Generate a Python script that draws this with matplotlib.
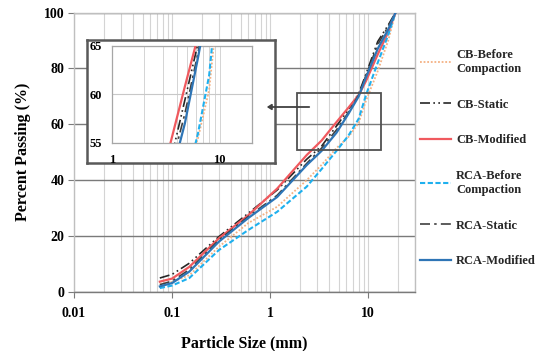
import matplotlib
matplotlib.use("Agg")
import matplotlib.pyplot as plt
from matplotlib.patches import Rectangle, FancyArrowPatch
from matplotlib.ticker import LogLocator, NullFormatter

# ---------------- data ----------------
sizes = [0.075, 0.1, 0.15, 0.3, 0.6, 1.18, 2.36, 3.35, 4.75, 6.3, 8.0, 9.5, 12.5, 16, 19]
cb_before = [2.8, 3.6, 6.0, 16.2, 24.7, 30.5, 40.0, 45.5, 51.5, 55.5, 60.5, 68.5, 79.0, 90.0, 100]
cb_static = [5.0, 6.3, 10.3, 19.8, 28.2, 36.5, 47.5, 52.2, 59.4, 65.3, 71.0, 78.0, 89.6, 95.5, 100]
cb_modified = [3.7, 4.8, 9.0, 19.2, 27.5, 37.0, 49.0, 54.2, 60.8, 66.0, 70.5, 75.5, 85.0, 93.0, 100]
rca_before = [1.4, 2.3, 5.0, 15.0, 22.2, 28.7, 37.7, 44.0, 50.5, 56.0, 62.0, 70.5, 82.0, 92.0, 100]
rca_static = [2.6, 3.9, 8.0, 18.6, 27.0, 34.6, 46.0, 51.5, 58.0, 64.3, 70.5, 77.5, 88.5, 95.0, 100]
rca_modified = [2.0, 3.2, 7.3, 18.0, 26.5, 34.0, 45.4, 50.5, 57.0, 63.8, 70.0, 76.8, 87.0, 94.0, 100]

labels = ["CB-Before\nCompaction", "CB-Static", "CB-Modified",
          "RCA-Before\nCompaction", "RCA-Static", "RCA-Modified"]
series = [cb_before, cb_static, cb_modified, rca_before, rca_static, rca_modified]
styles = [
    dict(color="#F4B183", lw=1.3, ls=(0, (1, 1))),
    dict(color="#262626", lw=1.2, ls=(0, (6, 2, 1, 2, 1, 2))),
    dict(color="#F0595E", lw=1.6, ls="-"),
    dict(color="#1FB0EE", lw=1.5, ls=(0, (2.5, 1.2))),
    dict(color="#404040", lw=1.2, ls=(0, (6, 2.5, 1.5, 2.5))),
    dict(color="#2E75B6", lw=1.6, ls="-"),
]

xticks_main = [0.01, 0.1, 1, 10]
xticklabels_main = ["0.01", "0.1", "1", "10"]
yticks_main = [0, 20, 40, 60, 80, 100]
xticks_inset = [1, 10]
yticks_inset = [55, 60, 65]

plt.rcParams["font.family"] = ["Liberation Serif", "DejaVu Serif"]
plt.rcParams["font.weight"] = "bold"

W, H = 542, 351
fig = plt.figure(figsize=(W / 100, H / 100), dpi=100)

def fx(px):
    return px / W

def fy(py):
    return 1 - py / H

# ---------------- main axes ----------------
ax = fig.add_axes([fx(74), fy(292), fx(415) - fx(74), fy(12.5) - fy(292)])
lines = []
for vals, st, lab in zip(series, styles, labels):
    ln, = ax.plot(sizes, vals, label=lab, zorder=3, **st)
    lines.append(ln)

ax.set_xscale("log")
ax.set_xlim(0.01, 30)
ax.set_ylim(0, 100)
ax.set_xticks(xticks_main)
ax.set_xticklabels(xticklabels_main)
ax.xaxis.set_minor_locator(LogLocator(base=10, subs=range(2, 10), numticks=20))
ax.xaxis.set_minor_formatter(NullFormatter())
ax.set_yticks(yticks_main)
ax.grid(True, which="both", axis="x", color="#d4d4d4", lw=0.8, zorder=0)
ax.grid(True, which="major", axis="y", color="#7a7a7a", lw=1.0, zorder=0)
ax.tick_params(axis="x", which="minor", length=0)
ax.tick_params(axis="both", which="major", length=4, color="#7a7a7a",
               labelsize=10)
ax.tick_params(axis="x", which="major", pad=7)
ax.tick_params(axis="y", which="major", pad=3)
for s in ax.spines.values():
    s.set_color("#bfbfbf")
    s.set_linewidth(1.0)
ax.spines["bottom"].set_color("#7a7a7a")
for t in ax.get_xticklabels() + ax.get_yticklabels():
    t.set_fontweight("bold")
ax.set_xlabel("Particle Size (mm)", fontsize=11.5, fontweight="bold", labelpad=11)
ax.set_ylabel("Percent Passing (%)", fontsize=11.5, fontweight="bold", labelpad=9)

# zoom-region rectangle on main axes
ax.add_patch(Rectangle((1.89, 50.8), 13.4 - 1.89, 71.2 - 50.8, fill=False,
                       ec="#505050", lw=1.3, zorder=4))

# ---------------- inset frame ----------------
frame = fig.add_axes([fx(87), fy(163), fx(275) - fx(87), fy(40) - fy(163)])
frame.set_xticks([])
frame.set_yticks([])
frame.set_facecolor("white")
for s in frame.spines.values():
    s.set_color("#595959")
    s.set_linewidth(1.8)
frame.set_zorder(5)

# ---------------- inset axes ----------------
ins = fig.add_axes([fx(112), fy(143), fx(252) - fx(112), fy(46) - fy(143)])
ins.set_zorder(6)
for vals, st in zip(series, styles):
    ins.plot(sizes, vals, zorder=3, **st)
ins.set_xscale("log")
ins.set_xlim(1, 20)
ins.set_ylim(55, 65)
ins.set_xticks(xticks_inset)
ins.set_xticklabels([str(v) for v in xticks_inset])
ins.xaxis.set_minor_locator(LogLocator(base=10, subs=range(2, 10), numticks=20))
ins.xaxis.set_minor_formatter(NullFormatter())
ins.set_yticks(yticks_inset)
ins.grid(True, which="both", axis="x", color="#d4d4d4", lw=0.7)
ins.grid(True, which="major", axis="y", color="#c8c8c8", lw=0.8)
ins.tick_params(axis="both", which="both", length=0, labelsize=9)
ins.tick_params(axis="x", pad=8)
ins.tick_params(axis="y", pad=7)
for t in ins.get_xticklabels() + ins.get_yticklabels():
    t.set_fontweight("bold")
for s in ins.spines.values():
    s.set_color("#a6a6a6")
    s.set_linewidth(0.9)

# arrow from rectangle to inset
fig.add_artist(FancyArrowPatch(
    (fx(312), fy(107)), (fx(264), fy(107)), transform=fig.transFigure,
    arrowstyle="-|>,head_length=2.5,head_width=1.6", color="#404040", lw=1.3,
    zorder=10))

# ---------------- legend ----------------
leg = fig.legend(lines, labels, loc="upper left",
                 bbox_to_anchor=(fx(415), fy(44)), frameon=False,
                 fontsize=9, handlelength=2.5, handletextpad=0.4,
                 labelspacing=1.9, borderaxespad=0)
for t in leg.get_texts():
    t.set_fontweight("bold")
    t.set_color("#262626")

fig.savefig("out.png", dpi=100)
